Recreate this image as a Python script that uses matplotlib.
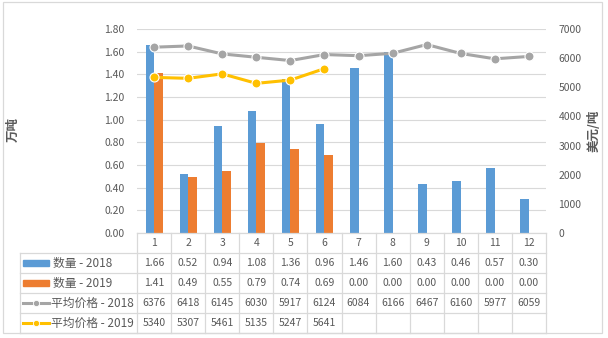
import matplotlib.pyplot as plt
import numpy as np
from matplotlib.lines import Line2D
from matplotlib.patches import Rectangle

plt.rcParams['font.family'] = ['Noto Sans CJK SC', 'DejaVu Sans']

# data
months = [1, 2, 3, 4, 5, 6, 7, 8, 9, 10, 11, 12]
qty_2018 = [1.66, 0.52, 0.94, 1.08, 1.36, 0.96, 1.46, 1.60, 0.43, 0.46, 0.57, 0.30]
qty_2019 = [1.41, 0.49, 0.55, 0.79, 0.74, 0.69, 0.00, 0.00, 0.00, 0.00, 0.00, 0.00]
price_2018 = [6376, 6418, 6145, 6030, 5917, 6124, 6084, 6166, 6467, 6160, 5977, 6059]
price_2019 = [5340, 5307, 5461, 5135, 5247, 5641]
row_names = ['数量 - 2018', '数量 - 2019', '平均价格 - 2018', '平均价格 - 2019']

blue = '#5B9BD5'
orange = '#ED7D31'
grey = '#A5A5A5'
gold = '#FFC000'
txt = '#595959'
gridc = '#D9D9D9'
fs = 7.5

W, H = 608, 338
fig = plt.figure(figsize=(W / 100, H / 100), dpi=100)

def fx(px):
    return px / W

def fy(py):
    return 1 - py / H

# plot area in pixels
left, right, top, bottom = 137, 546, 29, 233
ax = fig.add_axes([fx(left), fy(bottom), fx(right - left), (bottom - top) / H])
ax2 = ax.twinx()

x = np.array(months)
bw = 0.25
ax.bar(x - bw / 2, qty_2018, width=bw, color=blue, zorder=2)
ax.bar(x + bw / 2, qty_2019, width=bw, color=orange, zorder=2)

ax2.plot(months, price_2018, color=grey, lw=2.2, marker='o', ms=6.5,
         mfc=grey, mec='white', mew=0.8, zorder=3)
ax2.plot(months[:len(price_2019)], price_2019, color=gold, lw=2.2, marker='o', ms=6.5,
         mfc=gold, mec='white', mew=0.8, zorder=3)

ax.set_xlim(0.5, 12.5)
ax.set_ylim(0, 1.8)
ax.set_yticks(np.arange(0, 1.81, 0.2))
ax.set_yticklabels([f'{v:.2f}' for v in np.arange(0, 1.81, 0.2)])
ax2.set_ylim(0, 7000)
ax2.set_yticks(range(0, 7001, 1000))
ax.set_xticks([])

ax.grid(axis='y', color=gridc, lw=0.8, zorder=0)
ax.set_axisbelow(True)
for a in (ax, ax2):
    for s in a.spines.values():
        s.set_visible(False)
ax.tick_params(axis='y', length=0, pad=9, labelsize=fs, labelcolor=txt)
ax2.tick_params(axis='y', length=0, pad=9, labelsize=fs, labelcolor=txt)
ax.set_zorder(ax2.get_zorder() - 1)
ax2.patch.set_visible(False)
ax.patch.set_visible(False)

fig.text(fx(13), fy(130), '万吨', rotation=90, ha='center', va='center',
         fontsize=9, color=txt, fontweight='bold')
fig.text(fx(594), fy(131), '美元/吨', rotation=90, ha='center', va='center',
         fontsize=9, color=txt, fontweight='bold')

# data table below the plot
col_w = (right - left) / 12
row_edges = [233, 253, 273, 293, 313, 333]
tl = dict(color=gridc, lw=0.9, transform=fig.transFigure)

fig.add_artist(Line2D([fx(left), fx(right)], [fy(233), fy(233)], **tl))
for r in row_edges[1:]:
    fig.add_artist(Line2D([fx(20), fx(right)], [fy(r), fy(r)], **tl))
fig.add_artist(Line2D([fx(20), fx(20)], [fy(253), fy(333)], **tl))
for i in range(13):
    xp = left + i * col_w
    fig.add_artist(Line2D([fx(xp), fx(xp)], [fy(233), fy(333)], **tl))

for i, m in enumerate(months):
    cx = fx(left + (i + 0.5) * col_w)
    fig.text(cx, fy(243), str(m), ha='center', va='center', fontsize=fs, color=txt)
    fig.text(cx, fy(263), f'{qty_2018[i]:.2f}', ha='center', va='center', fontsize=fs, color=txt)
    fig.text(cx, fy(283), f'{qty_2019[i]:.2f}', ha='center', va='center', fontsize=fs, color=txt)
    fig.text(cx, fy(303), str(price_2018[i]), ha='center', va='center', fontsize=fs, color=txt)
    if i < len(price_2019):
        fig.text(cx, fy(323), str(price_2019[i]), ha='center', va='center', fontsize=fs, color=txt)

# legend keys in the row headers
for k, c in enumerate([blue, orange]):
    yc = 263 + 20 * k
    fig.add_artist(Rectangle((fx(23), fy(yc + 3)), fx(26), 6 / H, color=c,
                             transform=fig.transFigure))
    fig.text(fx(53), fy(yc), row_names[k], ha='left', va='center', fontsize=8.5, color=txt)
for k, c in enumerate([grey, gold]):
    yc = 303 + 20 * k
    fig.add_artist(Line2D([fx(23), fx(49)], [fy(yc), fy(yc)], color=c, lw=2.2,
                          transform=fig.transFigure))
    fig.add_artist(Line2D([fx(36)], [fy(yc)], color=c, marker='o', ms=4.5,
                          mec='white', mew=0.6, transform=fig.transFigure))
    fig.text(fx(51), fy(yc), row_names[k + 2], ha='left', va='center', fontsize=8.5, color=txt)

# chart border
fig.add_artist(Rectangle((fx(3), fy(333)), fx(599), 331 / H, fill=False,
                         ec=gridc, lw=0.9, transform=fig.transFigure))

fig.savefig('out.png', dpi=100)
